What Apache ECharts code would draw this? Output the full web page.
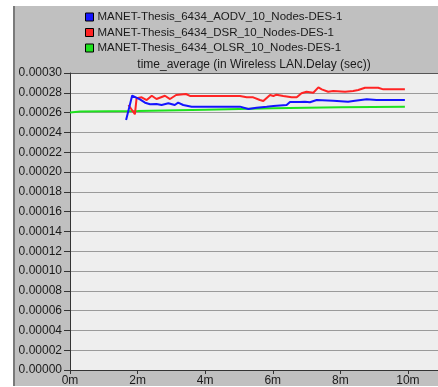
<!DOCTYPE html>
<html>
<head>
<meta charset="utf-8">
<script src="https://cdn.jsdelivr.net/npm/echarts@6/dist/echarts.min.js"></script>
<style>
  html, body { margin: 0; padding: 0; background: #ffffff; }
  #chart { width: 438px; height: 387px; }
</style>
</head>
<body>
<div id="chart"></div>
<script>
// Series names
const seriesNames = [
  'MANET-Thesis_6434_AODV_10_Nodes-DES-1',
  'MANET-Thesis_6434_DSR_10_Nodes-DES-1',
  'MANET-Thesis_6434_OLSR_10_Nodes-DES-1'
];
const chartTitle = 'time_average (in Wireless LAN.Delay (sec))';

// AODV (minutes / seconds of delay)
const aodvTime = [1.66, 1.84, 1.89, 2.07, 2.22, 2.37, 2.56, 2.71, 2.91, 3.10, 3.20, 3.35, 3.60, 5.03, 5.28, 5.52, 5.82, 6.02, 6.41, 6.51, 6.80, 6.95, 7.10, 7.30, 7.79, 8.23, 8.38, 8.78, 9.07, 9.91];
const aodvDelay = [0.0002525, 0.0002772, 0.0002768, 0.0002734, 0.0002700, 0.0002684, 0.0002687, 0.0002677, 0.0002694, 0.0002677, 0.0002700, 0.0002677, 0.0002660, 0.0002660, 0.0002636, 0.0002650, 0.0002660, 0.0002667, 0.0002677, 0.0002707, 0.0002707, 0.0002710, 0.0002704, 0.0002727, 0.0002720, 0.0002710, 0.0002717, 0.0002734, 0.0002727, 0.0002727];

// DSR
const dsrTime = [1.73, 1.92, 1.97, 2.12, 2.27, 2.42, 2.56, 2.81, 2.96, 3.14, 3.43, 3.55, 5.03, 5.23, 5.42, 5.62, 5.72, 5.92, 6.02, 6.11, 6.31, 6.56, 6.71, 6.85, 7.00, 7.20, 7.35, 7.45, 7.64, 7.79, 8.14, 8.38, 8.53, 8.73, 9.12, 9.27, 9.91];
const dsrDelay = [0.0002677, 0.0002583, 0.0002744, 0.0002754, 0.0002727, 0.0002770, 0.0002737, 0.0002770, 0.0002737, 0.0002778, 0.0002788, 0.0002768, 0.0002768, 0.0002754, 0.0002754, 0.0002727, 0.0002717, 0.0002778, 0.0002768, 0.0002781, 0.0002768, 0.0002754, 0.0002754, 0.0002795, 0.0002811, 0.0002801, 0.0002855, 0.0002835, 0.0002811, 0.0002818, 0.0002811, 0.0002818, 0.0002828, 0.0002851, 0.0002851, 0.0002835, 0.0002835];

// OLSR
const olsrTime = [0, 0.3, 2, 4, 6, 8, 9.91];
const olsrDelay = [0.000260, 0.000261, 0.0002615, 0.000263, 0.0002645, 0.0002655, 0.000266];

// Axis ticks
const xTickStep = 2;       // minutes
const yTickStep = 0.00002; // seconds
const yMax = 0.00030;

const pairs = (t, v) => t.map((x, i) => [x, v[i]]);

const textColor = '#1a1a1a';
const font = 'Liberation Sans, Arial, sans-serif';
const colors = ['#1414ff', '#ff2424', '#1ee21e'];

// split line colours: top border is darker
const splitColors = [];
for (let i = 0; i < 16; i++) splitColors.push(i === 15 ? '#555555' : '#9a9a9a');

const chart = echarts.init(document.getElementById('chart'), null, { renderer: 'canvas' });
chart.setOption({
  animation: false,
  backgroundColor: '#ffffff',
  color: colors,
  graphic: [
    { type: 'rect', z: -10, shape: { x: 15, y: 6, width: 423, height: 380 }, style: { fill: '#c0c0c0' }, silent: true },
    { type: 'rect', z: -10, shape: { x: 13, y: 6, width: 2, height: 380 }, style: { fill: '#7a7a7a' }, silent: true },
    { type: 'text', x: 254, y: 59, style: { text: chartTitle, textAlign: 'center', fill: textColor, font: '12px ' + font } }
  ],
  legend: {
    orient: 'vertical',
    left: 80,
    top: 6,
    itemWidth: 8,
    itemHeight: 8,
    itemGap: 3.5,
    icon: 'rect',
    itemStyle: { borderColor: '#000000', borderWidth: 1 },
    textStyle: { color: textColor, fontSize: 11.5, fontFamily: font, padding: [0, 0, 0, -1] },
    data: seriesNames
  },
  grid: {
    left: 70, top: 73, right: 0, bottom: 17,
    show: true, backgroundColor: '#eeeeee', borderWidth: 0
  },
  xAxis: {
    type: 'value',
    min: 0,
    max: 10.89,
    interval: xTickStep,
    axisLine: { show: true, lineStyle: { color: '#333333', width: 1 } },
    axisTick: { show: true, length: 4, lineStyle: { color: '#333333' } },
    axisLabel: {
      color: textColor, fontSize: 12, fontFamily: font, margin: 5,
      showMaxLabel: false,
      formatter: v => v + 'm'
    },
    splitLine: { show: false }
  },
  yAxis: {
    type: 'value',
    min: 0,
    max: yMax,
    interval: yTickStep,
    axisLine: { show: true, lineStyle: { color: '#333333', width: 1 } },
    axisTick: { show: true, length: 6, lineStyle: { color: '#333333' } },
    axisLabel: {
      color: textColor, fontSize: 12, fontFamily: font, margin: 8,
      formatter: v => v.toFixed(5)
    },
    splitLine: { show: true, lineStyle: { color: splitColors, width: 1 } }
  },
  series: [
    {
      name: seriesNames[2], type: 'line', data: pairs(olsrTime, olsrDelay),
      showSymbol: false, symbol: 'none', lineStyle: { width: 2, color: colors[2] }, itemStyle: { color: colors[2] }, z: 2
    },
    {
      name: seriesNames[1], type: 'line', data: pairs(dsrTime, dsrDelay),
      showSymbol: false, symbol: 'none', lineStyle: { width: 2, color: colors[1] }, itemStyle: { color: colors[1] }, z: 3
    },
    {
      name: seriesNames[0], type: 'line', data: pairs(aodvTime, aodvDelay),
      showSymbol: false, symbol: 'none', lineStyle: { width: 2, color: colors[0] }, itemStyle: { color: colors[0] }, z: 4
    }
  ]
});
</script>
</body>
</html>
